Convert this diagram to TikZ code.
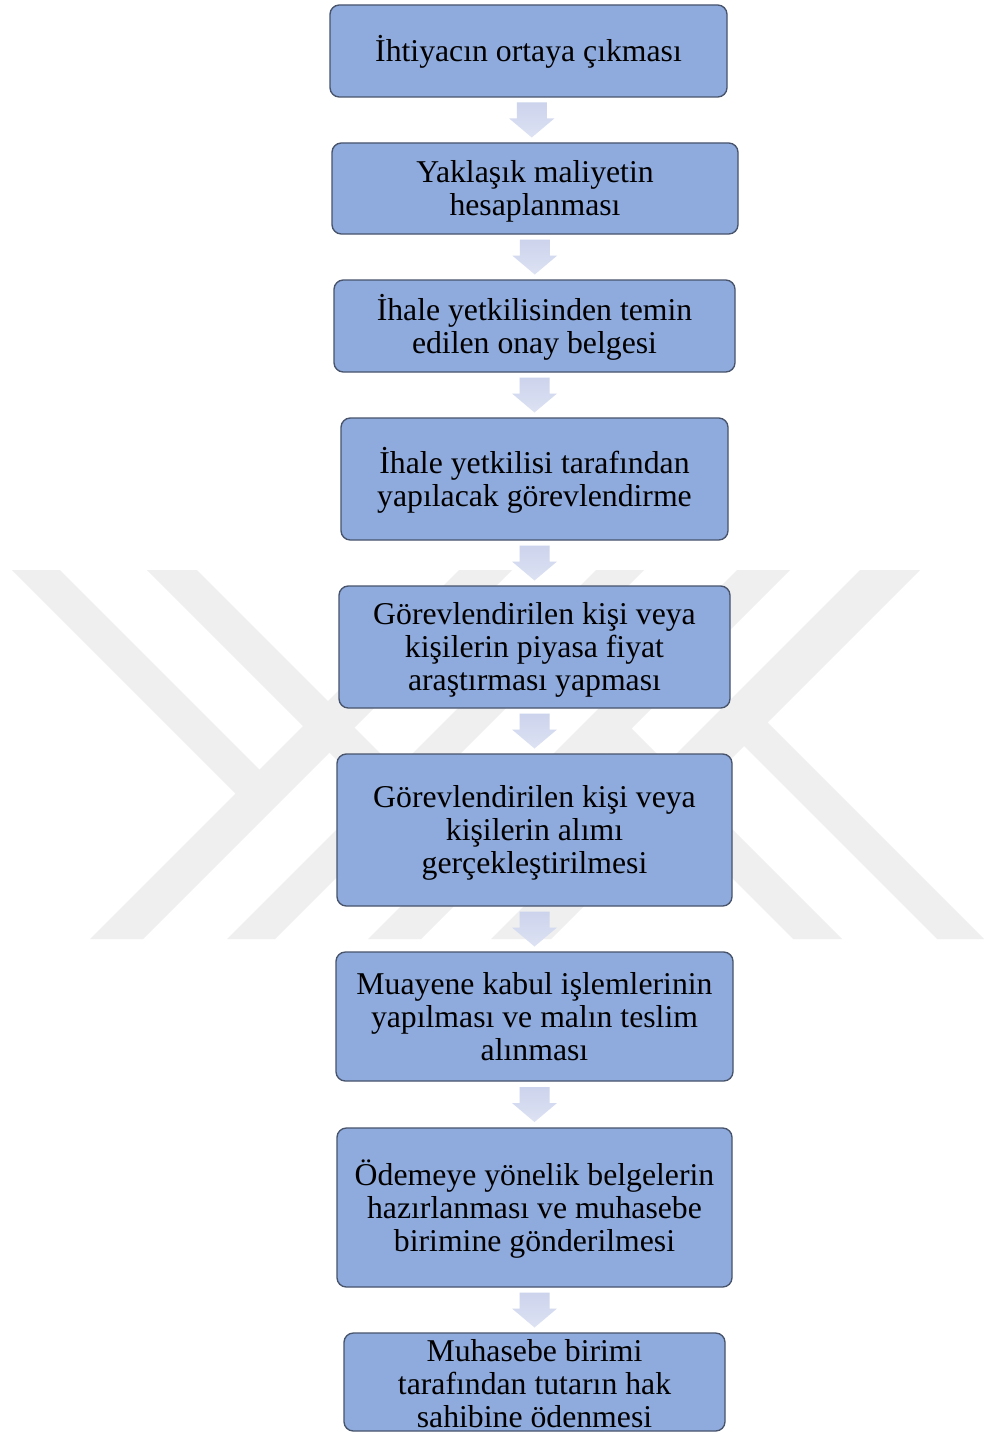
\documentclass[tikz,border=0pt]{standalone}
\usepackage{fontspec}
\setmainfont{Liberation Serif}
\usetikzlibrary{calc}
\definecolor{boxfill}{RGB}{143,170,220}
\definecolor{boxline}{RGB}{72,84,108}
\definecolor{wmark}{RGB}{239,239,239}
\definecolor{arrtop}{RGB}{204,211,236}
\definecolor{arrbot}{RGB}{221,226,243}
\newcommand\ts{\rule{0pt}{21.4pt}}
\newcommand\tss{\rule{0pt}{18.5pt}}
\newcommand\bs{\rule[-5.2pt]{0pt}{0pt}}
\tikzset{
  stepbox/.style={draw=boxline, line width=1pt, fill=boxfill, rounded corners=7pt,
    inner sep=0pt, align=center, font=\fontsize{23.8}{24.75}\selectfont},
  wm/.style={fill=wmark, draw=none},
  arrowshade/.style={top color=arrtop, bottom color=arrbot, draw=none}
}
\newcommand\flowarrow[3]{%
  \coordinate (#3) at ($(#1.south)!0.5!(#2.north)$);
  \shade[arrowshade] ($(#3)+(-15,-17.5)$) -- ($(#3)+(15,-17.5)$) -- ($(#3)+(15,-1.5)$)
    -- ($(#3)+(22.5,-1.5)$) -- ($(#3)+(0,17.5)$) -- ($(#3)+(-22.5,-1.5)$)
    -- ($(#3)+(-15,-1.5)$) -- cycle;}
\begin{document}
\begin{tikzpicture}[x=0.75pt,y=-0.75pt]
\useasboundingbox (0,0) rectangle (984,1434);
\fill[white] (0,0) rectangle (984,1434);
% watermark
\begin{scope}
  \clip (0,570) rectangle (984,939);
  \fill[wm] (90,939) -- (143,939) -- (512,570) -- (459,570) -- cycle;
  \fill[wm] (227,939) -- (275,939) -- (644,570) -- (596,570) -- cycle;
  \fill[wm] (368,939) -- (421,939) -- (790,570) -- (737,570) -- cycle;
  \fill[wm] (491,939) -- (551,939) -- (920,570) -- (860,570) -- cycle;
  \fill[wm] (12,570) -- (60,570) -- (272.5,782.5) -- (248.5,806.5) -- cycle;
  \fill[wm] (147,570) -- (197,570) -- (408.5,781.5) -- (383.5,806.5) -- cycle;
  \fill[wm] (793,939) -- (842,939) -- (618.25,715.25) -- (593.75,739.75) -- cycle;
  \fill[wm] (937,939) -- (984,939) -- (752.5,707.5) -- (729,731) -- cycle;
\end{scope}
% boxes
\node[stepbox, minimum width={397*0.75pt}, minimum height={92*0.75pt}] (b1) at (528.5,51) {\ts İhtiyacın ortaya çıkması\bs};
\node[stepbox, minimum width={406*0.75pt}, minimum height={91*0.75pt}] (b2) at (535,188.5) {\ts Yaklaşık maliyetin\\hesaplanması\bs};
\node[stepbox, minimum width={401*0.75pt}, minimum height={92*0.75pt}] (b3) at (534.5,326) {\ts İhale yetkilisinden temin\\edilen onay belgesi\bs};
\node[stepbox, minimum width={387*0.75pt}, minimum height={122*0.75pt}] (b4) at (534.5,479) {\ts İhale yetkilisi tarafından\\yapılacak görevlendirme\bs};
\node[stepbox, minimum width={391*0.75pt}, minimum height={122*0.75pt}] (b5) at (534.5,647) {\ts Görevlendirilen kişi veya\\kişilerin piyasa fiyat\\araştırması yapması\bs};
\node[stepbox, minimum width={395*0.75pt}, minimum height={152*0.75pt}] (b6) at (534.5,830) {\ts Görevlendirilen kişi veya\\kişilerin alımı\\gerçekleştirilmesi\bs};
\node[stepbox, minimum width={397*0.75pt}, minimum height={129*0.75pt}] (b7) at (534.5,1016.5) {\ts Muayene kabul işlemlerinin\\yapılması ve malın teslim\\alınması\bs};
\node[stepbox, minimum width={395*0.75pt}, minimum height={159*0.75pt}] (b8) at (534.5,1207.5) {\ts Ödemeye yönelik belgelerin\\hazırlanması ve muhasebe\\birimine gönderilmesi\bs};
\node[stepbox, minimum width={381*0.75pt}, minimum height={98*0.75pt}] (b9) at (534.5,1382) {\tss Muhasebe birimi\\tarafından tutarın hak\\sahibine ödenmesi};
% arrows
\flowarrow{b1}{b2}{m1}
\flowarrow{b2}{b3}{m2}
\flowarrow{b3}{b4}{m3}
\flowarrow{b4}{b5}{m4}
\flowarrow{b5}{b6}{m5}
\flowarrow{b6}{b7}{m6}
\flowarrow{b7}{b8}{m7}
\flowarrow{b8}{b9}{m8}
\end{tikzpicture}
\end{document}
